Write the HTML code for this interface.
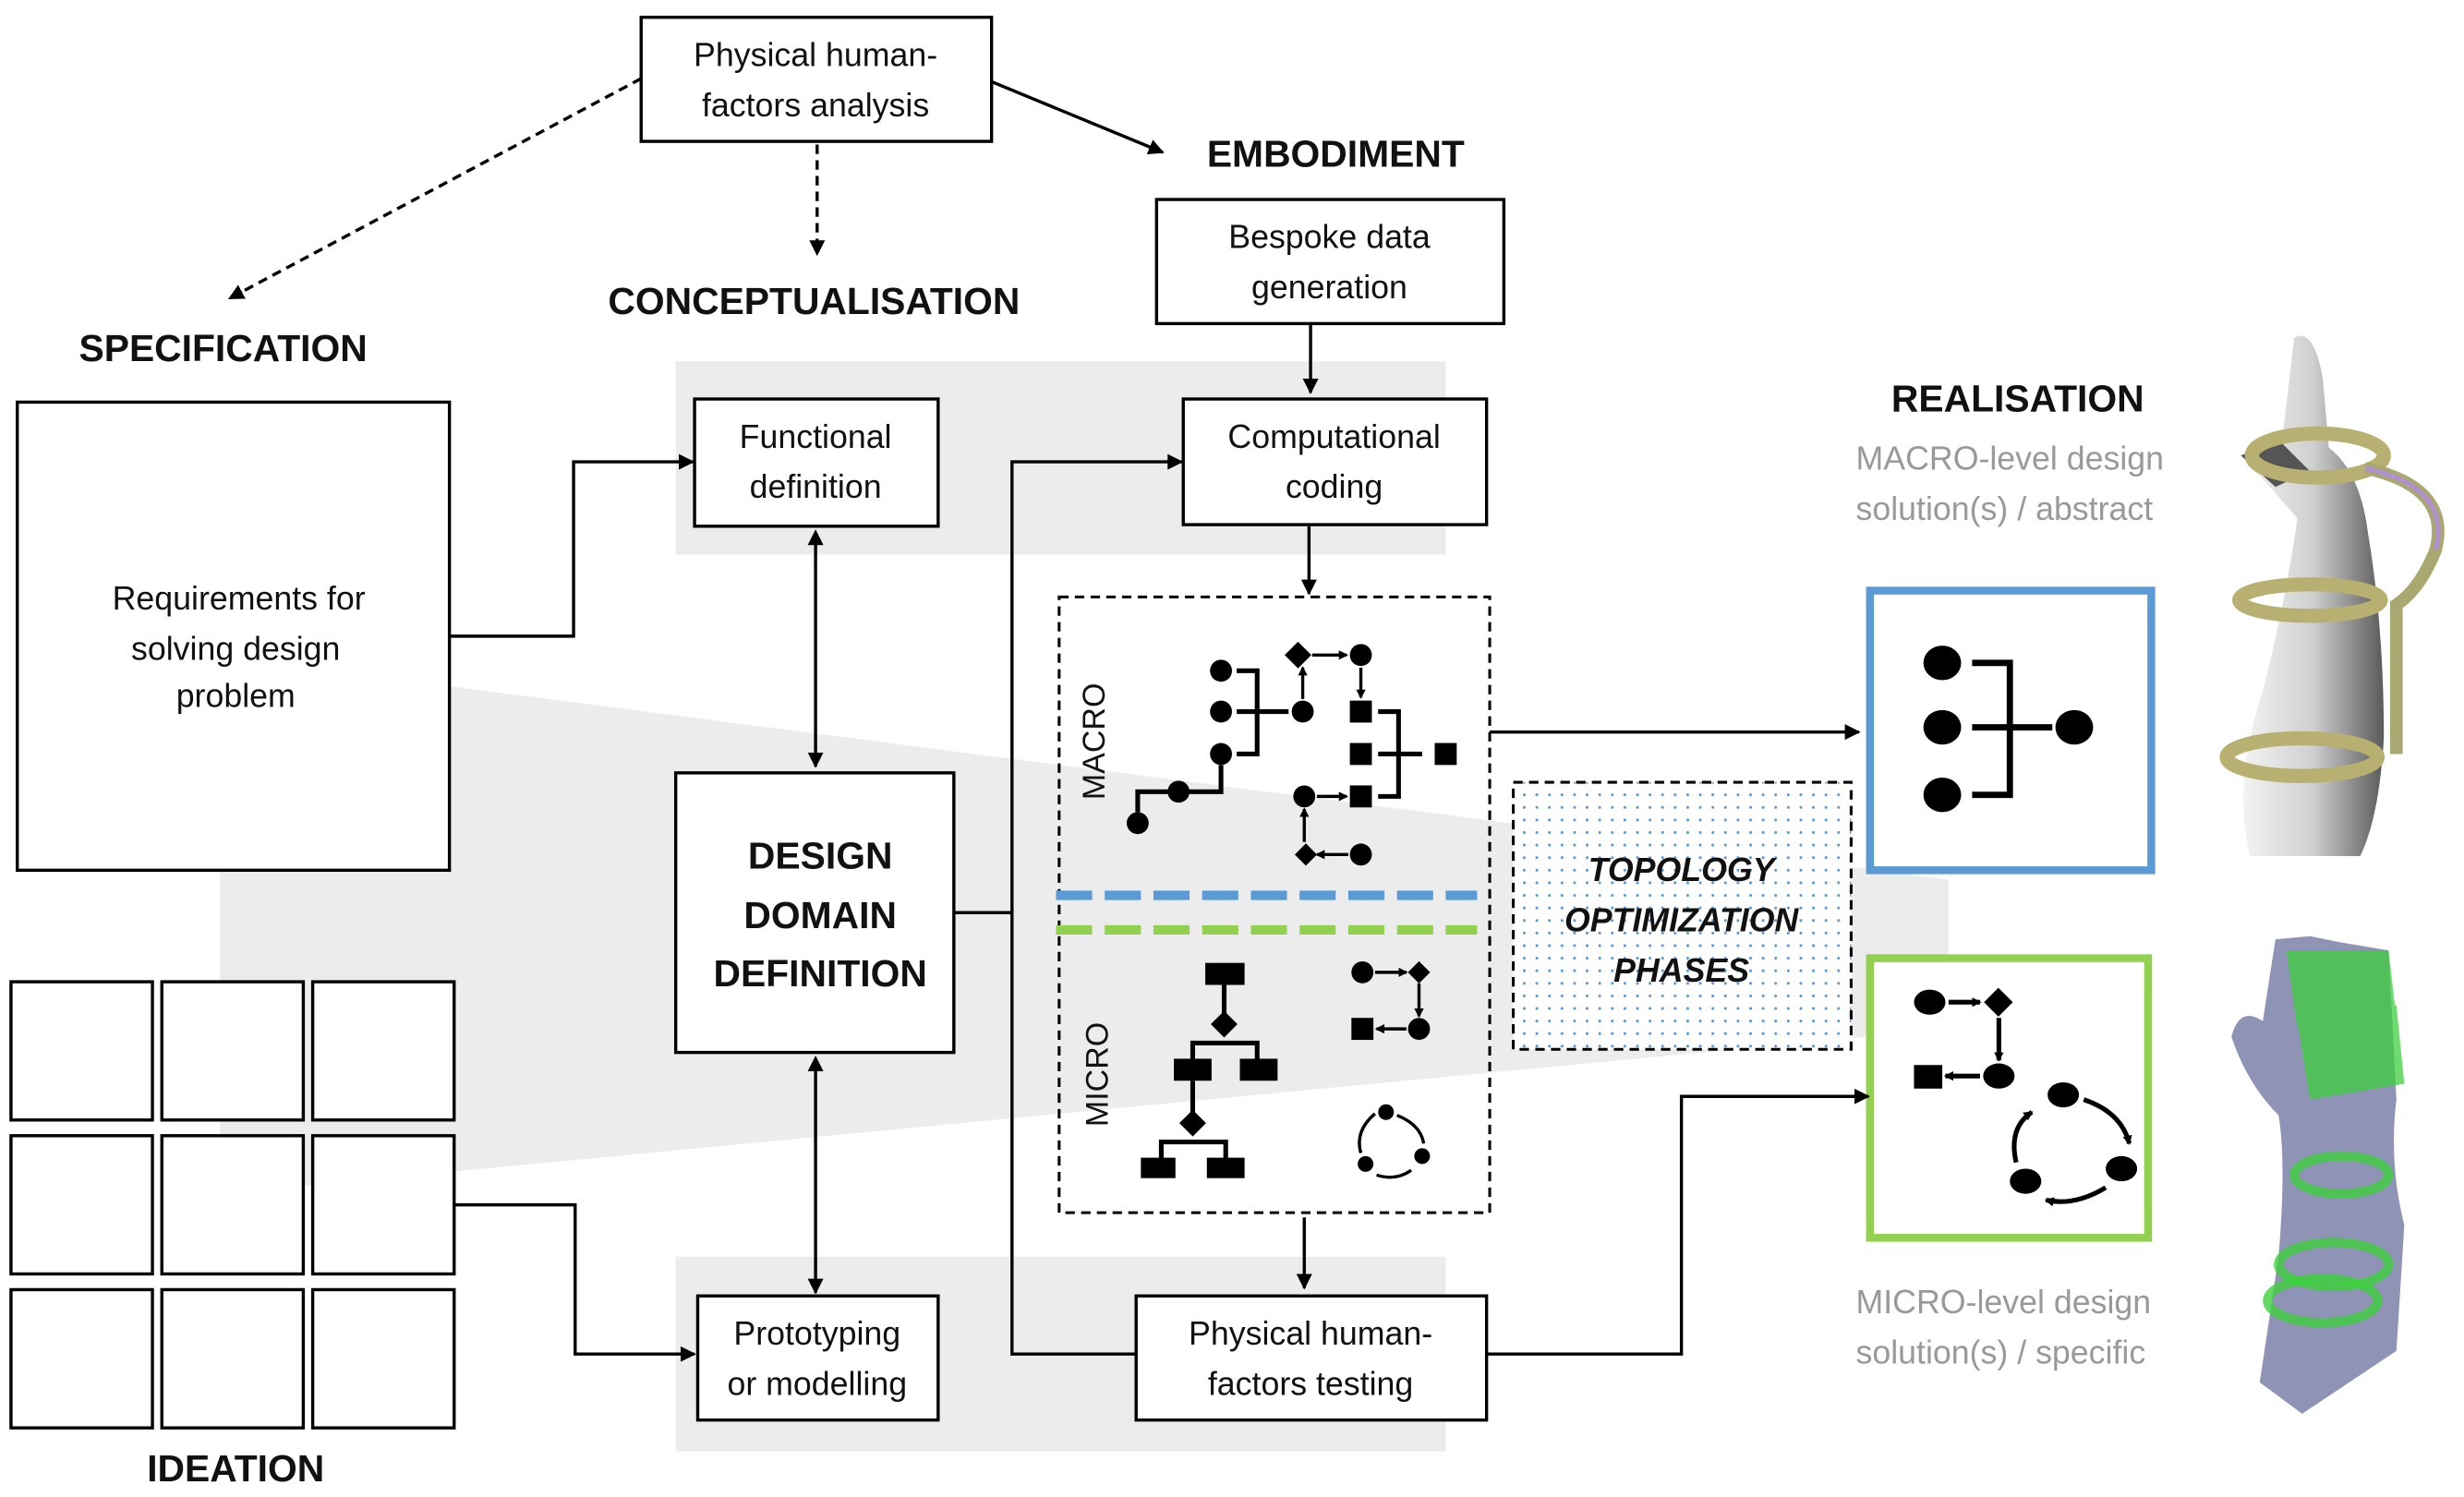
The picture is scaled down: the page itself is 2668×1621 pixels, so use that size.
<!DOCTYPE html>
<html><head><meta charset="utf-8"><style>
html,body{margin:0;padding:0;background:#fff;}
svg{display:block;}
text{font-family:"Liberation Sans",sans-serif;}
</style></head><body>
<svg width="2668" height="1621" viewBox="0 0 1568 953" preserveAspectRatio="none" xmlns="http://www.w3.org/2000/svg">
<defs>
<marker id="a" markerWidth="10" markerHeight="10" refX="9" refY="5" orient="auto" markerUnits="userSpaceOnUse"><path d="M0,0 L10,5 L0,10 z" fill="#000"/></marker>
<marker id="s" markerWidth="6" markerHeight="6" refX="5" refY="3" orient="auto" markerUnits="userSpaceOnUse"><path d="M0,0 L6,3 L0,6 z" fill="#000"/></marker>
<pattern id="dots" width="8" height="8" patternUnits="userSpaceOnUse"><circle cx="2" cy="2" r="0.9" fill="#5b9bd5"/></pattern>
<linearGradient id="hg" x1="0" x2="1" y1="0" y2="0"><stop offset="0" stop-color="#f4f4f4"/><stop offset="0.5" stop-color="#d0d0d0"/><stop offset="1" stop-color="#5a5a5a"/></linearGradient>
</defs>
<rect x="430" y="230" width="490" height="123" fill="#ececec"/>
<rect x="430" y="800" width="490" height="124" fill="#ececec"/>
<polygon points="140,418 1240,560 1240,655 140,760" fill="#ececec"/>

<g font-weight="bold" font-size="24" text-anchor="middle" fill="#111">
<text x="142" y="230">SPECIFICATION</text>
<text x="518" y="200">CONCEPTUALISATION</text>
<text x="850" y="106">EMBODIMENT</text>
<text x="1284" y="262">REALISATION</text>
<text x="150" y="943">IDEATION</text>
</g>
<g font-size="21" fill="#999">
<text x="1181" y="299">MACRO-level design</text>
<text x="1181" y="331">solution(s) / abstract</text>
<text x="1181" y="836">MICRO-level design</text>
<text x="1181" y="868">solution(s) / specific</text>
</g>

<g fill="#fff" stroke="#000" stroke-width="2">
<rect x="408" y="11" width="223" height="79"/>
<rect x="736" y="127" width="221" height="79"/>
<rect x="753" y="254" width="193" height="80"/>
<rect x="442" y="254" width="155" height="81"/>
<rect x="11" y="256" width="275" height="298"/>
<rect x="430" y="492" width="177" height="178"/>
<rect x="444" y="825" width="153" height="79"/>
<rect x="723" y="825" width="223" height="79"/>
<rect x="7" y="625" width="90" height="88"/><rect x="103" y="625" width="90" height="88"/><rect x="199" y="625" width="90" height="88"/>
<rect x="7" y="723" width="90" height="88"/><rect x="103" y="723" width="90" height="88"/><rect x="199" y="723" width="90" height="88"/>
<rect x="7" y="821" width="90" height="88"/><rect x="103" y="821" width="90" height="88"/><rect x="199" y="821" width="90" height="88"/>
</g>
<rect x="674" y="380" width="274" height="392" fill="none" stroke="#000" stroke-width="1.8" stroke-dasharray="6,4"/>
<rect x="963" y="498" width="215" height="170" fill="#fff"/>
<rect x="963" y="498" width="215" height="170" fill="url(#dots)" stroke="#000" stroke-width="1.8" stroke-dasharray="6,4"/>
<rect x="1190" y="376" width="179" height="178" fill="#fff" stroke="#5b9bd5" stroke-width="5"/>
<rect x="1190" y="610" width="177" height="178" fill="#fff" stroke="#92d050" stroke-width="5"/>
<line x1="672" y1="570" x2="940" y2="570" stroke="#5b9bd5" stroke-width="6" stroke-dasharray="23,8"/>
<line x1="672" y1="592" x2="940" y2="592" stroke="#92d050" stroke-width="6" stroke-dasharray="23,8"/>

<g font-size="21" text-anchor="middle" fill="#111">
<text x="519" y="42">Physical human-</text><text x="519" y="74">factors analysis</text>
<text x="846" y="158">Bespoke data</text><text x="846" y="190">generation</text>
<text x="849" y="285">Computational</text><text x="849" y="317">coding</text>
<text x="519" y="285">Functional</text><text x="519" y="317">definition</text>
<text x="152" y="388">Requirements for</text><text x="150" y="420">solving design</text><text x="150" y="450">problem</text>
<text x="520" y="856">Prototyping</text><text x="520" y="888">or modelling</text>
<text x="834" y="856">Physical human-</text><text x="834" y="888">factors testing</text>
</g>
<g font-size="24" font-weight="bold" text-anchor="middle" fill="#111">
<text x="522" y="553">DESIGN</text><text x="522" y="591">DOMAIN</text><text x="522" y="628">DEFINITION</text>
</g>
<g font-size="21" font-weight="bold" font-style="italic" text-anchor="middle" fill="#111">
<text x="1070" y="561">TOPOLOGY</text><text x="1070" y="593">OPTIMIZATION</text><text x="1070" y="625">PHASES</text>
</g>
<g font-size="20" fill="#111" text-anchor="middle">
<text transform="translate(703,472) rotate(-90)">MACRO</text>
<text transform="translate(705,684) rotate(-90)">MICRO</text>
</g>

<g stroke="#000" stroke-width="2" fill="none">
<line x1="408" y1="50" x2="146" y2="190" stroke-dasharray="6,4" marker-end="url(#a)"/>
<line x1="520" y1="92" x2="520" y2="162" stroke-dasharray="6,4" marker-end="url(#a)"/>
<line x1="631" y1="52" x2="740" y2="97" marker-end="url(#a)"/>
<line x1="834" y1="206" x2="834" y2="250" marker-end="url(#a)"/>
<line x1="833" y1="335" x2="833" y2="378" marker-end="url(#a)"/>
<polyline points="286,405 365,405 365,294 441,294" marker-end="url(#a)"/>
<line x1="519" y1="345" x2="519" y2="488" marker-end="url(#a)"/>
<line x1="519" y1="680" x2="519" y2="823" marker-end="url(#a)"/>
<line x1="607" y1="581" x2="644" y2="581"/>
<polyline points="740,294 644,294 644,862 722,862"/>
<line x1="740" y1="294" x2="752" y2="294" marker-end="url(#a)"/>
<polyline points="289,767 366,767 366,862 442,862" marker-end="url(#a)"/>
<line x1="830" y1="775" x2="830" y2="820" marker-end="url(#a)"/>
<line x1="948" y1="466" x2="1183" y2="466" marker-end="url(#a)"/>
<polyline points="946,862 1070,862 1070,698 1189,698" marker-end="url(#a)"/>
</g>
<path d="M514,347 L519,337 L524,347 z M514,682 L519,672 L524,682 z" fill="#000"/>

<g fill="#000">
<circle cx="777" cy="427" r="7"/><circle cx="777" cy="453" r="7"/><circle cx="777" cy="480" r="7"/>
<circle cx="829" cy="453" r="7"/><circle cx="750" cy="504" r="7"/><circle cx="724" cy="524" r="7"/>
<rect x="820" y="411" width="12" height="12" transform="rotate(45 826 417)"/><circle cx="866" cy="417" r="7"/>
<rect x="859" y="446" width="14" height="14"/><rect x="859" y="473" width="14" height="14"/><rect x="913" y="473" width="14" height="14"/><rect x="859" y="500" width="14" height="14"/>
<circle cx="830" cy="507" r="7"/><rect x="826" y="539" width="10" height="10" transform="rotate(45 831 544)"/><circle cx="866" cy="544" r="7"/>
</g>
<g stroke="#000" stroke-width="3" fill="none">
<polyline points="787,427 800,427 800,480 787,480"/><line x1="787" y1="453" x2="820" y2="453"/>
<polyline points="777,487 777,504 724,504 724,517"/>
<polyline points="877,453 890,453 890,507 877,507"/><line x1="877" y1="480" x2="905" y2="480"/>
</g>
<g stroke="#000" stroke-width="2" fill="none">
<line x1="835" y1="417" x2="857" y2="417" marker-end="url(#s)"/><line x1="866" y1="425" x2="866" y2="444" marker-end="url(#s)"/>
<line x1="829" y1="445" x2="829" y2="425" marker-end="url(#s)"/><line x1="838" y1="507" x2="857" y2="507" marker-end="url(#s)"/>
<line x1="830" y1="536" x2="830" y2="515" marker-end="url(#s)"/><line x1="858" y1="544" x2="838" y2="544" marker-end="url(#s)"/>
</g>
<g fill="#000">
<rect x="767" y="613" width="25" height="14"/><rect x="773" y="646" width="12" height="12" transform="rotate(45 779 652)"/>
<rect x="747" y="674" width="24" height="14"/><rect x="789" y="674" width="24" height="14"/>
<rect x="753" y="709" width="12" height="12" transform="rotate(45 759 715)"/>
<rect x="726" y="737" width="22" height="13"/><rect x="768" y="737" width="24" height="13"/>
<circle cx="867" cy="619" r="7"/><rect x="898" y="614" width="10" height="10" transform="rotate(45 903 619)"/>
<rect x="860" y="648" width="14" height="14"/><circle cx="903" cy="655" r="7"/>
<circle cx="882" cy="708" r="5"/><circle cx="905" cy="736" r="5"/><circle cx="869" cy="741" r="5"/>
</g>
<g stroke="#000" stroke-width="3" fill="none">
<polyline points="759,680 759,664 800,664 800,680"/><polyline points="739,743 739,727 780,727 780,743"/>
<line x1="779" y1="627" x2="779" y2="646"/><line x1="759" y1="688" x2="759" y2="709"/>
</g>
<g stroke="#000" stroke-width="2" fill="none">
<line x1="875" y1="619" x2="895" y2="619" marker-end="url(#s)"/><line x1="903" y1="626" x2="903" y2="647" marker-end="url(#s)"/>
<line x1="895" y1="655" x2="876" y2="655" marker-end="url(#s)"/>
<path d="M889,710 Q904,716 906,728"/><path d="M898,745 Q888,752 876,748"/><path d="M866,734 Q862,720 875,709"/>
</g>
<g fill="#000"><ellipse cx="1236" cy="422" rx="12" ry="11"/><ellipse cx="1236" cy="463" rx="12" ry="11"/><ellipse cx="1236" cy="506" rx="12" ry="11"/><ellipse cx="1320" cy="463" rx="12" ry="11"/></g>
<g stroke="#000" stroke-width="4" fill="none"><polyline points="1255,422 1279,422 1279,506 1255,506"/><line x1="1255" y1="463" x2="1306" y2="463"/></g>
<g fill="#000"><ellipse cx="1228" cy="638" rx="10" ry="8"/><rect x="1265" y="631" width="13" height="13" transform="rotate(45 1271 638)"/>
<rect x="1218" y="678" width="18" height="15"/><ellipse cx="1272" cy="685" rx="10" ry="8"/>
<ellipse cx="1313" cy="697" rx="10" ry="8"/><ellipse cx="1350" cy="744" rx="10" ry="8"/><ellipse cx="1289" cy="752" rx="10" ry="8"/></g>
<g stroke="#000" stroke-width="3" fill="none">
<line x1="1240" y1="638" x2="1260" y2="638" marker-end="url(#s)"/><line x1="1272" y1="648" x2="1272" y2="675" marker-end="url(#s)"/>
<line x1="1260" y1="685" x2="1238" y2="685" marker-end="url(#s)"/>
<path d="M1326,700 Q1350,708 1355,728" marker-end="url(#s)"/><path d="M1340,756 Q1320,768 1302,764" marker-end="url(#s)"/><path d="M1283,740 Q1278,718 1293,708" marker-end="url(#s)"/>
</g>

<g>
<path d="M1460,215 Q1472,208 1478,240 L1482,285 Q1502,300 1507,340 Q1517,400 1517,470 Q1514,520 1502,545 L1432,545 Q1420,500 1440,440 Q1455,380 1462,330 L1440,305 L1426,290 L1452,282 Z" fill="url(#hg)"/>
<path d="M1426,290 L1450,280 L1470,300 L1448,310 Z" fill="#555"/>
<ellipse cx="1475" cy="290" rx="42" ry="14" fill="none" stroke="#b8b070" stroke-width="9"/>
<ellipse cx="1470" cy="382" rx="45" ry="10" fill="none" stroke="#b8b070" stroke-width="9"/>
<ellipse cx="1465" cy="482" rx="48" ry="12" fill="none" stroke="#b8b070" stroke-width="9"/>
<path d="M1505,298 Q1560,310 1550,350 Q1540,375 1525,385 L1525,480" fill="none" stroke="#a8a870" stroke-width="8"/>
<path d="M1505,298 Q1560,310 1550,350" fill="none" stroke="#b090d0" stroke-width="3"/>
</g>
<g>
<path d="M1448,598 L1470,596 L1490,600 L1520,605 L1525,700 Q1520,740 1530,780 L1525,860 L1465,900 L1438,880 L1450,800 Q1455,740 1450,710 Q1430,690 1420,660 Q1425,640 1440,650 Z" fill="#8f93b5"/>
<path d="M1455,605 L1520,605 L1524,640 L1462,655 Z M1462,650 L1525,640 L1530,690 L1470,700 Z" fill="#3ccf3c" opacity="0.75"/>
<ellipse cx="1490" cy="748" rx="30" ry="12" fill="none" stroke="#3ccf3c" stroke-width="6" opacity="0.8"/>
<ellipse cx="1485" cy="805" rx="35" ry="14" fill="none" stroke="#3ccf3c" stroke-width="6" opacity="0.8"/>
<ellipse cx="1478" cy="828" rx="35" ry="14" fill="none" stroke="#3ccf3c" stroke-width="6" opacity="0.8"/>
</g>
</svg>
</body></html>
